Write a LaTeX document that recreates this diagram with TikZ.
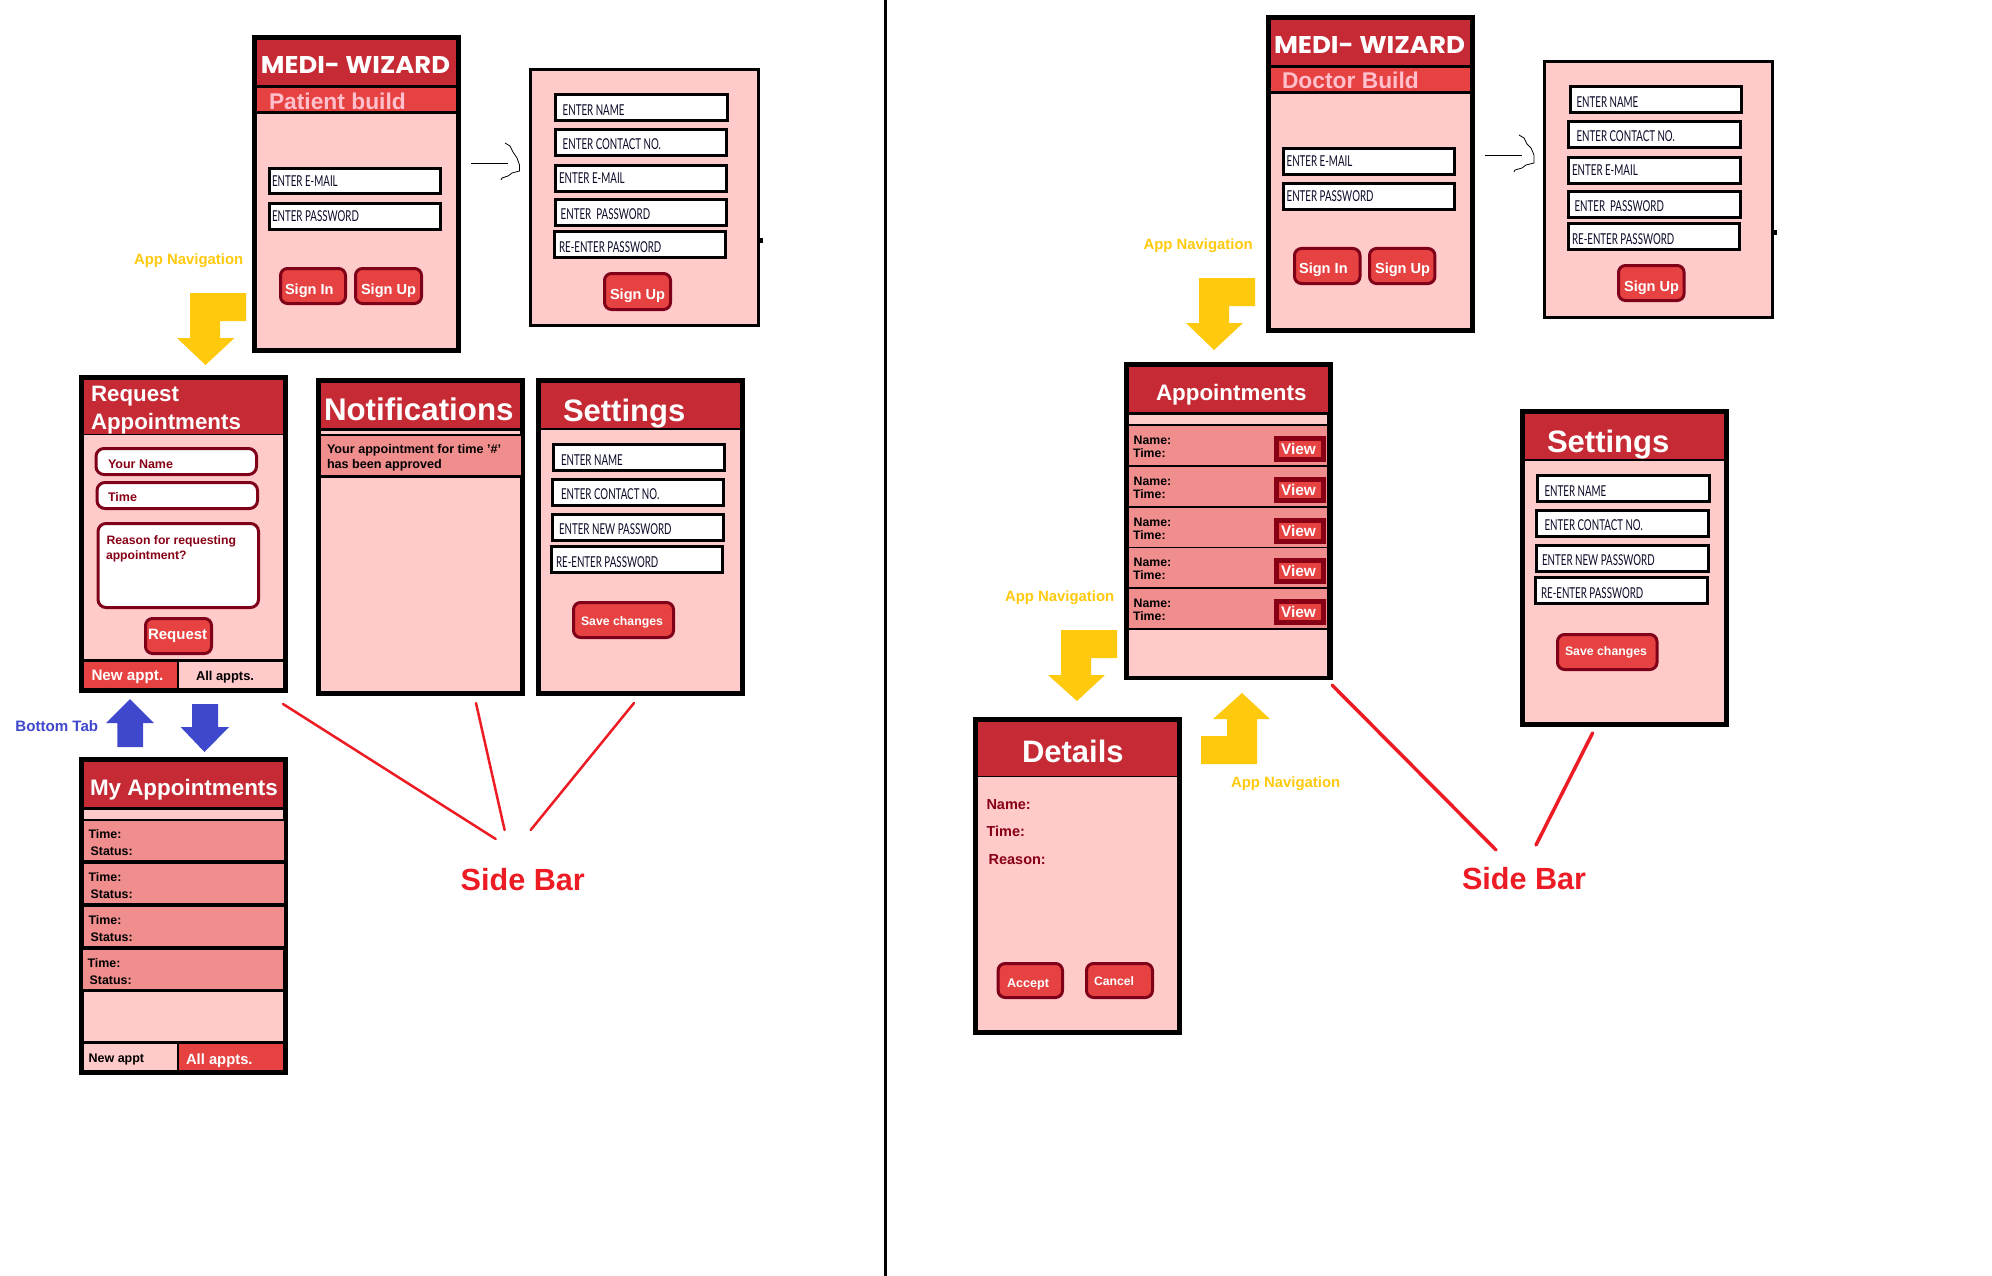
\documentclass[tikz,border=0pt]{standalone}
\usepackage{graphicx}
\usepackage{fontspec}
\setmainfont{Liberation Sans}
\newfontfamily\fieldfont{Lato}
\newfontfamily\logofont{Poppins}
\definecolor{hdr}{HTML}{C62B35}
\definecolor{redc}{HTML}{E64242}
\definecolor{pinkc}{HTML}{FFCACA}
\definecolor{rose}{HTML}{F08E8E}
\definecolor{darkc}{HTML}{7F0019}
\definecolor{maroon}{HTML}{880015}
\definecolor{yel}{HTML}{FFC90E}
\definecolor{blu}{HTML}{3F48CC}
\definecolor{linered}{HTML}{ED1C24}
\definecolor{softpink}{HTML}{FFBFCB}
\definecolor{ink}{HTML}{0A0A28}
\tikzset{
  bxbase/.style={rectangle,inner sep=0pt,outer sep=0pt},
  lblbase/.style={anchor=west,inner sep=0pt,outer sep=0pt,text depth=0pt},
  tf/.style={font=\fontsize{#1}{#1}\selectfont\bfseries,text height={0.72*#1}},
  frame/.style={fill=black},
  hd/.style={fill=hdr},
  pk/.style={fill=pinkc},
  rs/.style={fill=rose},
  rd/.style={fill=redc},
  field/.style={draw=black,fill=white},
  btn/.style={draw=darkc,fill=redc,rounded corners=7pt},
  inp/.style={draw=darkc,fill=white,rounded corners=8pt},
  viewb/.style={draw=maroon,fill=redc},
  ftext/.style={anchor=west,inner sep=0pt,outer sep=0pt,text=ink},
  sideline/.style={draw=linered,line cap=round},
  hand/.style={draw=black,line width=.8pt},
  yarrow/.style={fill=yel},
  barrow/.style={fill=blu}
}
\newcommand\phbox[8][]{%
  \pgfmathsetmacro\phw{#5-#3-#7}\pgfmathsetmacro\phh{#6-#4-#7}%
  \node[bxbase,#1,line width=#7pt,minimum width=\phw pt,minimum height=\phh pt] (#2) at ({(#3+#5)/2},{(#4+#6)/2}) {#8};}
\newcommand\lbl[5][]{\node[lblbase,#1] (#2) at (#3,#4) {#5};}
\newcommand\fld[4]{\node[ftext] (#1) at (#2,#3) {\fontsize{15}{15}\fieldfont\scalebox{.65}[1]{#4}};}
\newcommand\logo[4]{\node[inner sep=0pt,outer sep=0pt,text=white] (#1) at (#2,#3) {\logofont\bfseries\resizebox{#4pt}{17pt}{MEDI- WIZARD}};}
\begin{document}
\begin{tikzpicture}[x=1pt,y=-1pt]
\useasboundingbox (0,0) rectangle (1992,1276);
\fill[white] (0,0) rectangle (1992,1276);
% divider
\coordinate (divT) at (885.5,0); \coordinate (divB) at (885.5,1276);
\draw[line width=3pt] (divT) -- (divB);

% ===== Patient phone
\phbox[frame]{pa}{252}{35}{461}{353}{0}{}
\phbox[pk]{paB}{257}{40}{456}{348}{0}{}
\phbox[hd]{paH}{257}{40}{456}{85}{0}{}
\phbox[frame]{paL}{257}{85}{456}{114}{0}{}
\phbox[rd]{paS}{257}{88}{456}{111}{0}{}
\logo{paLogo}{355.5}{65.5}{189}
\lbl[tf=22.8,text=softpink]{paSub}{269}{101}{Patient build}
\phbox[field]{paF1}{267.5}{167}{441.5}{195}{3}{}
\phbox[field]{paF2}{267.5}{202}{441.5}{231}{3}{}
\fld{paT1}{272}{181}{ENTER E-MAIL}
\fld{paT2}{272}{216}{ENTER PASSWORD}
\phbox[btn]{paB1}{279}{267}{347}{305}{3}{}
\phbox[btn]{paB2}{354}{267}{423}{305}{3}{}
\lbl[tf=14.6,text=white]{paBT1}{285}{289}{Sign In}
\lbl[tf=14.6,text=white]{paBT2}{361}{289}{Sign Up}
% hand arrow
\coordinate (ha1) at (471,163); \coordinate (ha2) at (508,163);
\draw[hand] (ha1) -- (ha2);
\coordinate (ha3) at (505,143);
\draw[hand] (ha3) -- (510,146) -- (513,152) -- (517,158) -- (519.5,165) -- (519.5,171) -- (512,173) -- (508,176) -- (502,178) -- (501,180);
% signup panel
\phbox[draw=black,fill=pinkc]{su}{528.7}{68}{759.5}{327}{3}{}
\phbox[frame]{suN}{760}{238}{763}{243}{0}{}
\phbox[field]{suF1}{554.4}{93}{729}{122}{3}{}
\phbox[field]{suF2}{553.5}{128}{728}{157}{3}{}
\phbox[field]{suF3}{553.5}{164}{728}{193}{3}{}
\phbox[field]{suF4}{553.5}{198}{728}{227}{3}{}
\phbox[field]{suF5}{552.5}{230}{727}{259}{3}{}
\fld{suT1}{562.7}{110}{ENTER NAME}
\fld{suT2}{562.7}{144}{ENTER CONTACT NO.}
\fld{suT3}{559}{178}{ENTER E-MAIL}
\fld{suT4}{560.7}{214}{ENTER\ \ PASSWORD}
\fld{suT5}{559}{247}{RE-ENTER PASSWORD}
\phbox[btn]{suB}{603}{272}{672}{311}{3}{}
\lbl[tf=14.6,text=white]{suBT}{610}{294}{Sign Up}
% nav
\lbl[tf=14.9,text=yel]{nav1}{134}{259}{App Navigation}
\fill[yarrow] (246,293) -- (190,293) -- (190,338) -- (177,338) -- (205.5,365) -- (234.5,338) -- (220,338) -- (220,321) -- (246,321) -- cycle;

% ===== Request
\phbox[frame]{rq}{79}{375}{288}{693}{0}{}
\phbox[hd]{rqH}{84}{380}{283}{434}{0}{}
\phbox[pk]{rqB}{84}{435}{283}{659}{0}{}
\lbl[tf=22.3,text=white]{rqT1}{91}{393}{Request}
\lbl[tf=22.3,text=white]{rqT2}{91}{421}{Appointments}
\phbox[inp]{rqI1}{94.5}{447}{258}{476}{3}{}
\phbox[inp]{rqI2}{95.5}{481}{259}{510}{3}{}
\phbox[inp]{rqI3}{96.5}{522}{260}{609}{3}{}
\lbl[tf=12.5,text=maroon]{rqL1}{108}{464}{Your Name}
\lbl[tf=12.5,text=maroon]{rqL2}{108}{497}{Time}
\lbl[tf=12.2,text=maroon]{rqL3}{106.5}{540}{Reason for requesting}
\lbl[tf=12.2,text=maroon]{rqL4}{106}{555}{appointment?}
\phbox[btn]{rqBt}{144}{617}{213}{655}{3}{}
\lbl[tf=15,text=white]{rqBtT}{148}{634}{Request}
\phbox[rd]{rqTa}{84}{662}{177}{688}{0}{}
\phbox[pk]{rqTb}{179}{662}{283}{688}{0}{}
\lbl[tf=15.2,text=white]{rqTaT}{91.5}{675}{New appt.}
\lbl[tf=12.9,text=black]{rqTbT}{196}{676}{All appts.}

% ===== Notifications
\phbox[frame]{no}{316}{378}{525}{696}{0}{}
\phbox[hd]{noH}{321}{383}{520}{428}{0}{}
\phbox[pk]{noS}{321}{431}{520}{434}{0}{}
\phbox[rs]{noR}{321}{436}{521}{475}{0}{}
\phbox[pk]{noB}{321}{478}{520}{691}{0}{}
\lbl[tf=31.3,text=white]{noT}{324}{409}{Notifications}
\lbl[tf=12.6,text=black]{noL1}{327}{449}{Your appointment for time '\#'}
\lbl[tf=12.6,text=black]{noL2}{327}{464}{has been approved}

% ===== Settings 1
\phbox[frame]{se}{536}{378}{745}{696}{0}{}
\phbox[hd]{seH}{541}{383}{740}{428}{0}{}
\phbox[pk]{seB}{541}{430}{740}{691}{0}{}
\lbl[tf=31,text=white]{seT}{563}{410}{Settings}
\phbox[field]{seF1}{552}{443}{726}{472}{3}{}
\phbox[field]{seF2}{551}{478}{725}{507}{3}{}
\phbox[field]{seF3}{551}{513}{725}{542}{3}{}
\phbox[field]{seF4}{550}{545}{724}{574}{3}{}
\fld{seL1}{561}{460}{ENTER NAME}
\fld{seL2}{561}{494}{ENTER CONTACT NO.}
\fld{seL3}{559}{529}{ENTER NEW PASSWORD}
\fld{seL4}{556}{562}{RE-ENTER PASSWORD}
\phbox[btn]{seBt}{572}{601}{675}{639}{3}{}
\lbl[tf=12.3,text=white]{seBtT}{581}{621}{Save changes}

% ===== Bottom tab arrows
\lbl[tf=15.1,text=blu]{bt}{15.4}{726}{Bottom Tab}
\fill[barrow] (130,699) -- (154,723) -- (143,723) -- (143,747) -- (117.4,747) -- (117.4,723) -- (106,723) -- cycle;
\fill[barrow] (192,704) -- (218,704) -- (218,727) -- (229,727) -- (204.5,752) -- (180.6,727) -- (192,727) -- cycle;

% ===== My Appointments
\phbox[frame]{my}{79}{757}{288}{1075}{0}{}
\phbox[hd]{myH}{84}{762}{283}{807}{0}{}
\phbox[pk]{myS}{84}{810}{283}{819}{0}{}
\phbox[rs]{myR1}{84}{821}{284}{860}{0}{}
\phbox[rs]{myR2}{84}{864}{284}{903}{0}{}
\phbox[rs]{myR3}{84}{907}{284}{946}{0}{}
\phbox[rs]{myR4}{83}{950}{283}{989}{0}{}
\phbox[pk]{myB}{84}{992}{283}{1041}{0}{}
\phbox[pk]{myTa}{84}{1044}{177}{1070}{0}{}
\phbox[rd]{myTb}{179}{1044}{283}{1070}{0}{}
\lbl[tf=22.4,text=white]{myT}{90}{787}{My Appointments}
\lbl[tf=12.4,text=black]{myA1}{88.6}{834}{Time:}
\lbl[tf=12.4,text=black]{myB1}{90.7}{851}{Status:}
\lbl[tf=12.4,text=black]{myA2}{88.6}{877}{Time:}
\lbl[tf=12.4,text=black]{myB2}{90.7}{894}{Status:}
\lbl[tf=12.4,text=black]{myA3}{88.6}{920}{Time:}
\lbl[tf=12.4,text=black]{myB3}{90.7}{937}{Status:}
\lbl[tf=12.4,text=black]{myA4}{87.6}{963}{Time:}
\lbl[tf=12.4,text=black]{myB4}{89.7}{980}{Status:}
\lbl[tf=12.5,text=black]{myTaT}{88.6}{1058}{New appt}
\lbl[tf=14.8,text=white]{myTbT}{186}{1059}{All appts.}

% ===== Side bar 1
\lbl[tf=30.6,text=linered]{sb1}{460.7}{879}{Side Bar}
\coordinate (s1a) at (283,704); \coordinate (s1b) at (495.7,839);
\coordinate (s2a) at (476,703); \coordinate (s2b) at (504.6,830);
\coordinate (s3a) at (634,703); \coordinate (s3b) at (530.7,830);
\draw[sideline,line width=2.5pt] (s1a) -- (s1b);
\draw[sideline,line width=2.5pt] (s2a) -- (s2b);
\draw[sideline,line width=2.5pt] (s3a) -- (s3b);

% ===== Doctor phone
\phbox[frame]{dr}{1266}{15}{1475}{333}{0}{}
\phbox[pk]{drB}{1271}{20}{1470}{328}{0}{}
\phbox[hd]{drH}{1271}{20}{1470}{65}{0}{}
\phbox[frame]{drL}{1271}{65}{1470}{94}{0}{}
\phbox[rd]{drS}{1271}{68}{1470}{91}{0}{}
\logo{drLogo}{1369.5}{45}{191}
\lbl[tf=22.8,text=softpink]{drSub}{1282}{80}{Doctor Build}
\phbox[field]{drF1}{1281.5}{147}{1456}{176}{3}{}
\phbox[field]{drF2}{1281.5}{182}{1456}{211}{3}{}
\fld{drT1}{1286.6}{161}{ENTER E-MAIL}
\fld{drT2}{1286.6}{196}{ENTER PASSWORD}
\phbox[btn]{drB1}{1293}{247}{1361.5}{285}{3}{}
\phbox[btn]{drB2}{1368}{247}{1436.4}{285}{3}{}
\lbl[tf=14.6,text=white]{drBT1}{1299}{268}{Sign In}
\lbl[tf=14.6,text=white]{drBT2}{1375}{268}{Sign Up}
\coordinate (hb1) at (1485,155); \coordinate (hb2) at (1522,155);
\draw[hand] (hb1) -- (hb2);
\coordinate (hb3) at (1519,135);
\draw[hand] (hb3) -- (1524,138) -- (1527,144) -- (1531,148) -- (1534,155) -- (1534,163) -- (1526,165) -- (1522,168) -- (1515,170) -- (1514,172);
% doctor signup
\phbox[draw=black,fill=pinkc]{ds}{1542.5}{60}{1774}{319}{3}{}
\phbox[frame]{dsN}{1774}{230}{1777}{235}{0}{}
\phbox[field]{dsF1}{1568.5}{85}{1743}{114}{3}{}
\phbox[field]{dsF2}{1567}{120}{1741.5}{149}{3}{}
\phbox[field]{dsF3}{1567}{156}{1741.5}{185}{3}{}
\phbox[field]{dsF4}{1567}{190}{1741.5}{219}{3}{}
\phbox[field]{dsF5}{1566.5}{222}{1741}{251}{3}{}
\fld{dsT1}{1576.5}{102}{ENTER NAME}
\fld{dsT2}{1576.5}{136}{ENTER CONTACT NO.}
\fld{dsT3}{1572}{170}{ENTER E-MAIL}
\fld{dsT4}{1574.5}{206}{ENTER\ \ PASSWORD}
\fld{dsT5}{1572}{239}{RE-ENTER PASSWORD}
\phbox[btn]{dsB}{1617}{264}{1685.6}{302}{3}{}
\lbl[tf=14.6,text=white]{dsBT}{1624}{286}{Sign Up}
\lbl[tf=14.9,text=yel]{nav2}{1143.5}{244}{App Navigation}
\fill[yarrow] (1255,278) -- (1199,278) -- (1199,323) -- (1186,323) -- (1214,350) -- (1243,323) -- (1229,323) -- (1229,306) -- (1255,306) -- cycle;

% ===== Appointments
\phbox[frame]{ap}{1124}{362}{1333}{680}{0}{}
\phbox[hd]{apH}{1129}{367}{1328}{412}{0}{}
\phbox[pk]{apS}{1129}{415}{1327}{424}{0}{}
\phbox[rs]{apR1}{1129}{426}{1327}{465}{0}{}
\phbox[rs]{apR2}{1129}{467}{1327}{506}{0}{}
\phbox[rs]{apR3}{1129}{508}{1327}{547}{0}{}
\phbox[rs]{apR4}{1129}{548}{1327}{587}{0}{}
\phbox[rs]{apR5}{1129}{589}{1327}{628}{0}{}
\phbox[pk]{apB}{1129}{630}{1327}{676}{0}{}
\lbl[tf=22.4,text=white]{apT}{1156}{392}{Appointments}
\lbl[tf=12.3,text=black]{apN1}{1133.7}{440}{Name:}
\lbl[tf=12.3,text=black]{apM1}{1133}{453}{Time:}
\lbl[tf=12.3,text=black]{apN2}{1133.7}{481}{Name:}
\lbl[tf=12.3,text=black]{apM2}{1133}{494}{Time:}
\lbl[tf=12.3,text=black]{apN3}{1133.7}{522}{Name:}
\lbl[tf=12.3,text=black]{apM3}{1133}{535}{Time:}
\lbl[tf=12.3,text=black]{apN4}{1133.7}{562}{Name:}
\lbl[tf=12.3,text=black]{apM4}{1133}{575}{Time:}
\lbl[tf=12.3,text=black]{apN5}{1133.7}{603}{Name:}
\lbl[tf=12.3,text=black]{apM5}{1133}{616}{Time:}
\phbox[viewb]{apV1}{1274}{436}{1326}{462}{5}{}
\phbox[viewb]{apV2}{1274}{477}{1326}{503}{5}{}
\phbox[viewb]{apV3}{1274}{518}{1326}{544}{5}{}
\phbox[viewb]{apV4}{1274}{558}{1326}{584}{5}{}
\phbox[viewb]{apV5}{1274}{599}{1326}{625}{5}{}
\lbl[tf=15.4,text=white]{apW1}{1281}{449}{View}
\lbl[tf=15.4,text=white]{apW2}{1281}{490}{View}
\lbl[tf=15.4,text=white]{apW3}{1281}{531}{View}
\lbl[tf=15.4,text=white]{apW4}{1281}{571}{View}
\lbl[tf=15.4,text=white]{apW5}{1281}{612}{View}
\lbl[tf=14.9,text=yel]{nav3}{1005}{596}{App Navigation}
\fill[yarrow] (1117,630) -- (1061,630) -- (1061,675) -- (1048,675) -- (1077,701) -- (1105,675) -- (1091,675) -- (1091,658) -- (1117,658) -- cycle;

% ===== Details
\phbox[frame]{de}{973}{717}{1182}{1035}{0}{}
\phbox[hd]{deH}{978}{722}{1177}{776}{0}{}
\phbox[pk]{deB}{978}{777}{1177}{1030}{0}{}
\lbl[tf=31,text=white]{deT}{1022}{751}{Details}
\lbl[tf=14.5,text=maroon]{deL1}{986.5}{804}{Name:}
\lbl[tf=14.5,text=maroon]{deL2}{986.5}{831}{Time:}
\lbl[tf=14.5,text=maroon]{deL3}{988.6}{859}{Reason:}
\phbox[btn]{deB1}{996.6}{962}{1064}{999}{3}{}
\phbox[btn]{deB2}{1085}{962}{1154}{999}{3}{}
\lbl[tf=12.6,text=white]{deA}{1007}{983}{Accept}
\lbl[tf=12.2,text=white]{deC}{1094}{981}{Cancel}
\fill[yarrow] (1242,693) -- (1270,719) -- (1257,719) -- (1257,764) -- (1201,764) -- (1201,736) -- (1227,736) -- (1227,719) -- (1213,719) -- cycle;
\lbl[tf=14.9,text=yel]{nav4}{1231}{782}{App Navigation}

% ===== Settings 2
\phbox[frame]{st}{1520}{409}{1729}{727}{0}{}
\phbox[hd]{stH}{1525}{414}{1724}{459}{0}{}
\phbox[pk]{stB}{1525}{461}{1724}{722}{0}{}
\lbl[tf=31,text=white]{stT}{1547}{441}{Settings}
\phbox[field]{stF1}{1536}{474}{1711}{503}{3}{}
\phbox[field]{stF2}{1535}{509}{1710}{538}{3}{}
\phbox[field]{stF3}{1535}{544}{1710}{573}{3}{}
\phbox[field]{stF4}{1534}{576}{1709}{605}{3}{}
\fld{stL1}{1544.5}{491}{ENTER NAME}
\fld{stL2}{1544.5}{525}{ENTER CONTACT NO.}
\fld{stL3}{1542}{560}{ENTER NEW PASSWORD}
\fld{stL4}{1541}{593}{RE-ENTER PASSWORD}
\phbox[btn]{stBt}{1556}{633}{1658.5}{671}{3}{}
\lbl[tf=12.3,text=white]{stBtT}{1565}{651}{Save changes}

% ===== Side bar 2
\lbl[tf=30.6,text=linered]{sb2}{1462}{878}{Side Bar}
\coordinate (t1a) at (1332,685); \coordinate (t1b) at (1496,850);
\coordinate (t2a) at (1592.6,733); \coordinate (t2b) at (1536,845);
\draw[sideline,line width=3.5pt] (t1a) -- (t1b);
\draw[sideline,line width=3.5pt] (t2a) -- (t2b);
\end{tikzpicture}
\end{document}
